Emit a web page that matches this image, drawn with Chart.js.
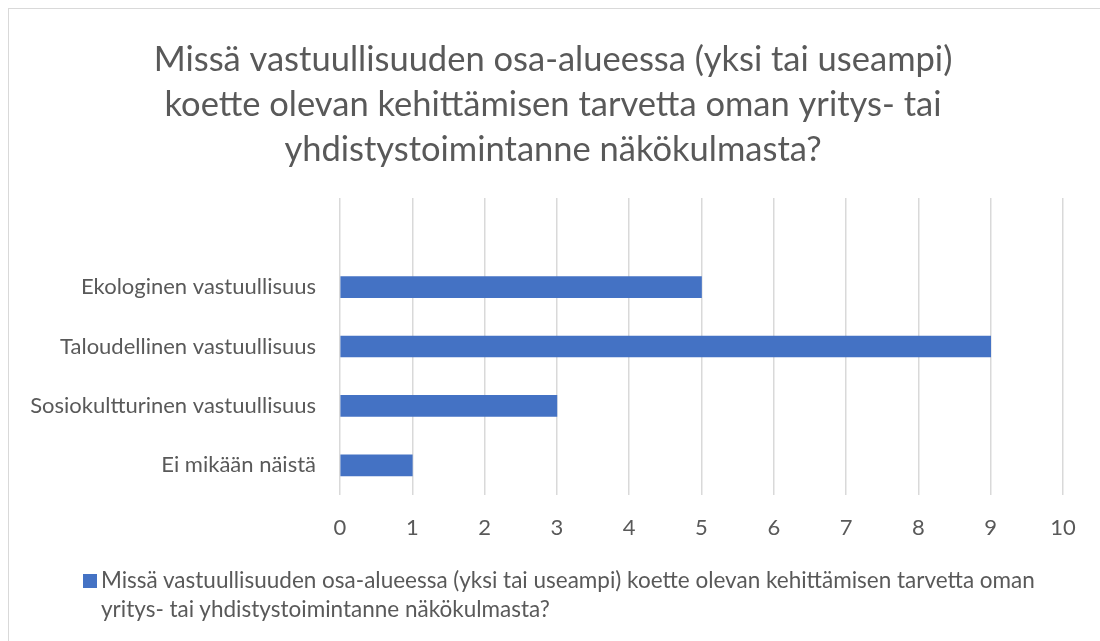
<!DOCTYPE html>
<html lang="fi">
  <head>
    <meta charset="UTF-8" />
    <title>Vastuullisuus</title>
    <script src="https://cdn.jsdelivr.net/npm/chart.js@4"></script>
    <style>
      html, body { margin: 0; padding: 0; background: #fff; }
      .wrap { position: relative; width: 1100px; height: 641px; overflow: hidden; }
      .frame { position: absolute; left: 8px; top: 8px; width: 1200px; height: 700px; border-left: 1px solid #d9d9d9; border-top: 1px solid #d9d9d9; }
      #chart { position: absolute; left: 0; top: 0; }
      .legend { position: absolute; left: 83px; top: 565px; font-family: Lato, sans-serif; font-size: 22.5px; line-height: 29px; color: #595959; white-space: nowrap; }
      .legend .box { display: inline-block; width: 14px; height: 14px; background: #4472c4; margin-right: 4px; vertical-align: 0px; }
      .legend .l2 { padding-left: 18px; }
    </style>
  </head>
  <body>
    <div class="wrap">
      <div class="frame"></div>
      <canvas id="chart" width="1100" height="641"></canvas>
      <div class="legend">
        <div><span class="box"></span><span id="legendText1"></span></div>
        <div class="l2" id="legendText2"></div>
      </div>
    </div>
    <script>
      // kategoriat (ylin rivi on tyhjä kuten alkuperäisessä kaaviossa)
      const categories = ["", "Ekologinen vastuullisuus", "Taloudellinen vastuullisuus", "Sosiokultturinen vastuullisuus", "Ei mikään näistä"];
      const values = [null, 5, 9, 3, 1];
      const xTicks = [0, 1, 2, 3, 4, 5, 6, 7, 8, 9, 10];
      const titleLines = ["Missä vastuullisuuden osa-alueessa (yksi tai useampi)", "koette olevan kehittämisen tarvetta oman yritys- tai", "yhdistystoimintanne näkökulmasta?"];
      const seriesName = "Missä vastuullisuuden osa-alueessa (yksi tai useampi) koette olevan kehittämisen tarvetta oman yritys- tai yhdistystoimintanne näkökulmasta?";

      // legenda kahdelle riville
      const cut = seriesName.indexOf(" yritys-");
      document.querySelector("#legendText1").textContent = seriesName.slice(0, cut);
      document.querySelector("#legendText2").textContent = seriesName.slice(cut + 1);

      // pitkät y-akselin tekstit eivät saa leikkautua vasemmasta reunasta
      const unclipLabels = {
        id: "unclipLabels",
        afterLayout(chart) {
          chart.scales.y.left = 0;
        },
      };

      const grey = "#595959";
      const ctx = document.querySelector("#chart").getContext("2d");
      new Chart(ctx, {
        type: "bar",
        data: {
          labels: categories,
          datasets: [
            {
              label: seriesName,
              data: values,
              backgroundColor: "#4472c4",
              barThickness: 21,
            },
          ],
        },
        options: {
          indexAxis: "y",
          responsive: false,
          animation: false,
          layout: { padding: { left: 43, right: 37, top: 0, bottom: 0 } },
          plugins: {
            legend: { display: false },
            tooltip: { enabled: false },
            title: {
              display: true,
              text: titleLines,
              color: grey,
              font: { family: "Lato", size: 34.5, weight: "normal", lineHeight: 45 / 34.5 },
              padding: { top: 37.5, bottom: 25.5 },
            },
          },
          scales: {
            x: {
              min: 0,
              max: 10,
              afterBuildTicks: function (axis) {
                axis.ticks = xTicks.map((v) => ({ value: v }));
              },
              afterFit: function (axis) {
                axis.height = 146;
              },
              grid: { color: "#d9d9d9", lineWidth: 1.5, drawTicks: false },
              border: { display: false },
              ticks: { color: grey, padding: 20, font: { family: "Lato", size: 22 } },
            },
            y: {
              afterFit: function (axis) {
                axis.width = 297;
              },
              grid: { display: false, drawTicks: false },
              border: { display: false },
              ticks: { color: grey, padding: 24, font: { family: "Lato", size: 22 } },
            },
          },
        },
        plugins: [unclipLabels],
      });
    </script>
  </body>
</html>
